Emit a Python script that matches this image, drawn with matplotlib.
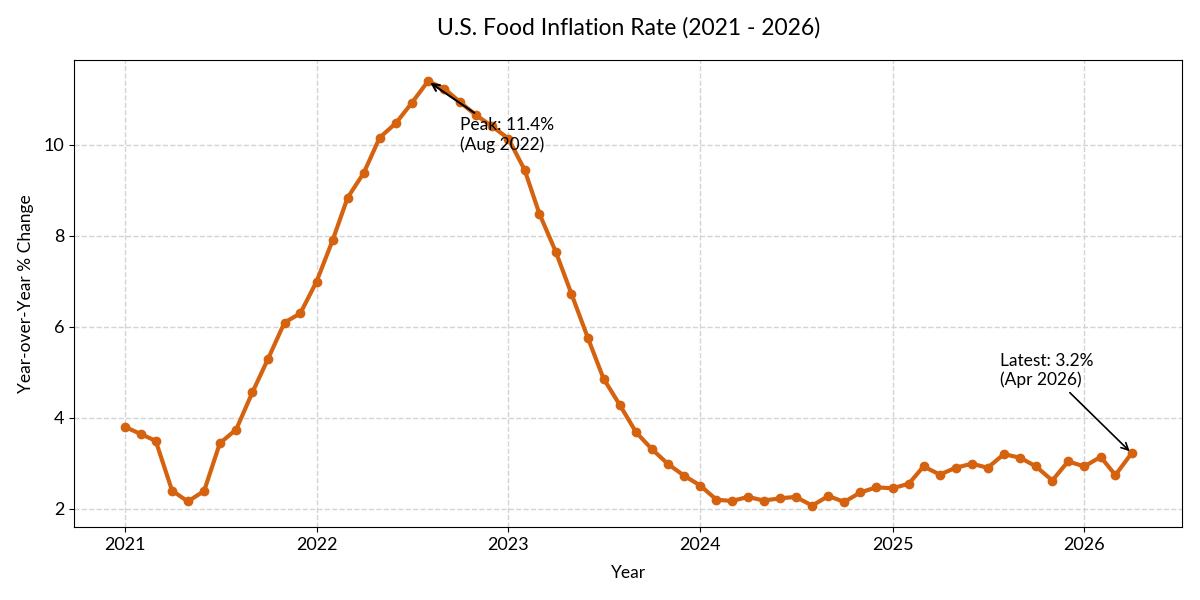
import matplotlib
matplotlib.use("Agg")
import matplotlib.pyplot as plt
import matplotlib.dates as mdates
import pandas as pd

plt.rcParams['font.family'] = ['Lato', 'DejaVu Sans']

# monthly food CPI, year-over-year % change
months = pd.date_range("2021-01-01", "2026-04-01", freq="MS")
rate_2021 = [3.80, 3.64, 3.49, 2.40, 2.16, 2.39, 3.44, 3.74, 4.56, 5.30, 6.09, 6.29]
rate_2022 = [6.99, 7.91, 8.83, 9.38, 10.15, 10.47, 10.91, 11.39, 11.23, 10.93, 10.64, 10.40]
rate_2023 = [10.13, 9.44, 8.48, 7.65, 6.72, 5.76, 4.86, 4.28, 3.68, 3.31, 2.98, 2.73]
rate_2024 = [2.51, 2.20, 2.17, 2.26, 2.18, 2.23, 2.26, 2.07, 2.28, 2.15, 2.36, 2.47]
rate_2025 = [2.45, 2.55, 2.93, 2.75, 2.90, 2.99, 2.90, 3.20, 3.12, 2.93, 2.62, 3.04]
rate_2026 = [2.93, 3.14, 2.74, 3.22]
rates = rate_2021 + rate_2022 + rate_2023 + rate_2024 + rate_2025 + rate_2026

peak_label = "Peak: 11.4%\n(Aug 2022)"
latest_label = "Latest: 3.2%\n(Apr 2026)"

fig, ax = plt.subplots(figsize=(12, 6), dpi=100)
fig.subplots_adjust(left=0.062, right=0.985, bottom=0.122, top=0.9)

ax.plot(months, rates, color="#D5620F", linewidth=3, marker="o", markersize=6)

# peak annotation
i_peak = rates.index(max(rates))
ax.annotate(peak_label, xy=(months[i_peak], rates[i_peak]),
            xytext=(months[i_peak] + pd.Timedelta(days=60), rates[i_peak] - 1.5),
            fontsize=12.5, arrowprops=dict(arrowstyle="->", color="black", lw=1.5))

# latest annotation
ax.annotate(latest_label, xy=(months[-1], rates[-1]),
            xytext=(months[-1] - pd.Timedelta(days=250), rates[-1] + 1.5),
            fontsize=12.5, arrowprops=dict(arrowstyle="->", color="black", lw=1.2))

ax.xaxis.set_major_locator(mdates.YearLocator())
ax.xaxis.set_major_formatter(mdates.DateFormatter("%Y"))
ax.tick_params(labelsize=13)
ax.grid(True, linestyle="--", color="#d4d4d4", linewidth=1)

ax.set_title("U.S. Food Inflation Rate (2021 - 2026)", fontsize=16.5, pad=18)
ax.set_xlabel("Year", fontsize=12.5, labelpad=9)
ax.set_ylabel("Year-over-Year % Change", fontsize=12.5, labelpad=7)

plt.savefig("out.png")
